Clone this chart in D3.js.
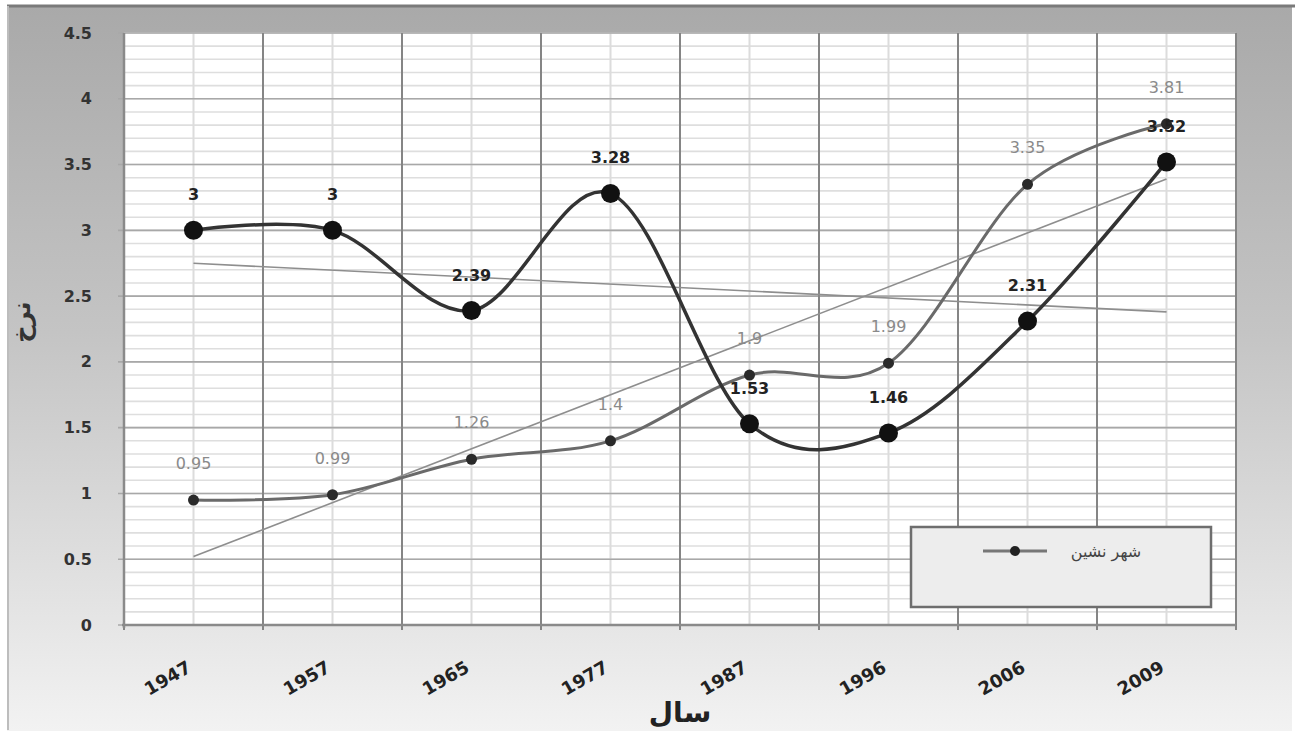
<!DOCTYPE html>
<html><head><meta charset="utf-8">
<script src="https://cdn.jsdelivr.net/npm/d3@7"></script>
<style>body{margin:0;background:#fff}svg{display:block}text{font-family:"DejaVu Sans",Arial,sans-serif}</style>
</head><body><svg id="c" width="1295" height="734"></svg>
<script>
const years = ["1947","1957","1965","1977","1987","1996","2006","2009"];
const seriesDark = [3, 3, 2.39, 3.28, 1.53, 1.46, 2.31, 3.52];
const seriesGray = [0.95, 0.99, 1.26, 1.4, 1.9, 1.99, 3.35, 3.81];
const trendDark = [2.75, 2.38];   // trend line value at first and last year
const trendGray = [0.52, 3.39];
const yTicks = [0, 0.5, 1, 1.5, 2, 2.5, 3, 3.5, 4, 4.5];
const legendLabel = "شهر نشین";
const xTitle = "سال";
const yTitle = "نرخ";

const svg = d3.select("#c");
const W = 1295, H = 734;
const defs = svg.append("defs");
const g1 = defs.append("linearGradient").attr("id","bg").attr("x1",0).attr("y1",0).attr("x2",0).attr("y2",1);
g1.append("stop").attr("offset","0%").attr("stop-color","#a9a9a9");
g1.append("stop").attr("offset","45%").attr("stop-color","#c4c4c4");
g1.append("stop").attr("offset","100%").attr("stop-color","#f2f2f2");

svg.append("rect").attr("x",7).attr("y",5).attr("width",W-10).attr("height",H-8)
  .attr("fill","url(#bg)");
svg.append("line").attr("x1",7).attr("x2",W).attr("y1",6).attr("y2",6).attr("stroke","#7a7a7a").attr("stroke-width",3);
svg.append("line").attr("x1",8).attr("x2",8).attr("y1",6).attr("y2",H-4).attr("stroke","#bdbdbd").attr("stroke-width",2);

const x = d3.scaleBand().domain(years).range([124,1236]).paddingInner(0).paddingOuter(0);
const y = d3.scaleLinear().domain([0,4.5]).range([625,33]);
const cx = d => x(d) + x.bandwidth()/2;

// plot area
svg.append("rect").attr("x",124).attr("y",33).attr("width",1112).attr("height",592).attr("fill","#ffffff");

// minor horizontal grid
const minor = d3.range(0,4.5001,0.1);
svg.append("g").selectAll("line").data(minor).join("line")
  .attr("x1",124).attr("x2",1236).attr("y1",d=>y(d)).attr("y2",d=>y(d))
  .attr("stroke","#dedede").attr("stroke-width",1.6);
// minor vertical grid at category centers
svg.append("g").selectAll("line").data(years).join("line")
  .attr("x1",d=>cx(d)).attr("x2",d=>cx(d)).attr("y1",33).attr("y2",625)
  .attr("stroke","#dcdcdc").attr("stroke-width",2);
// major horizontal grid
svg.append("g").selectAll("line").data(yTicks).join("line")
  .attr("x1",118).attr("x2",1236).attr("y1",d=>y(d)).attr("y2",d=>y(d))
  .attr("stroke","#a8a8a8").attr("stroke-width",1.6);
// major vertical grid at band edges
const edges = years.map(d=>x(d)).concat([1236]);
svg.append("g").selectAll("line").data(edges).join("line")
  .attr("x1",d=>d).attr("x2",d=>d).attr("y1",33).attr("y2",630)
  .attr("stroke","#858585").attr("stroke-width",2);
// axes lines
svg.append("line").attr("x1",122).attr("x2",1236).attr("y1",625).attr("y2",625).attr("stroke","#8a8a8a").attr("stroke-width",2.5);
svg.append("line").attr("x1",124).attr("x2",124).attr("y1",33).attr("y2",628).attr("stroke","#8a8a8a").attr("stroke-width",2.5);

// y tick labels
svg.append("g").selectAll("text").data(yTicks).join("text")
  .attr("x",92).attr("y",d=>y(d)).attr("dy","0.35em").attr("text-anchor","end")
  .attr("font-size",16).attr("font-weight","bold").attr("fill","#333")
  .text(d=>d3.format("")(d));

// x tick labels
svg.append("g").selectAll("text").data(years).join("text")
  .attr("transform",d=>`translate(${cx(d)-1},${671}) rotate(-30)`)
  .attr("text-anchor","end").attr("font-size",18).attr("font-weight","bold").attr("fill","#222")
  .text(d=>d);

// titles
svg.append("text").attr("x",680).attr("y",722).attr("text-anchor","middle")
  .attr("font-size",28).attr("font-weight","bold").attr("fill","#222").text(xTitle);
svg.append("text").attr("transform","translate(30,322) rotate(-90)").attr("text-anchor","middle")
  .attr("font-size",24).attr("font-weight","bold").attr("fill","#333").text(yTitle);

// trend lines
const tl = d3.line().x(d=>d[0]).y(d=>d[1]);
[trendDark, trendGray].forEach(t=>{
  svg.append("path").attr("d",tl([[cx(years[0]),y(t[0])],[cx(years[years.length-1]),y(t[1])]]))
    .attr("fill","none").attr("stroke","#8e8e8e").attr("stroke-width",1.6);
});

const line = d3.line().x((d,i)=>cx(years[i])).y(d=>y(d)).curve(d3.curveCardinal.tension(0));

// gray series
svg.append("path").attr("d",line(seriesGray)).attr("fill","none").attr("stroke","#6a6a6a").attr("stroke-width",3);
svg.append("g").selectAll("circle").data(seriesGray).join("circle")
  .attr("cx",(d,i)=>cx(years[i])).attr("cy",d=>y(d)).attr("r",5.5).attr("fill","#2a2a2a");
svg.append("g").selectAll("text").data(seriesGray).join("text")
  .attr("x",(d,i)=>cx(years[i])).attr("y",d=>y(d)-31).attr("text-anchor","middle")
  .attr("font-size",16).attr("fill","#8a8a8a").text(d=>d);

// dark series
svg.append("path").attr("d",line(seriesDark)).attr("fill","none").attr("stroke","#333").attr("stroke-width",3.5);
svg.append("g").selectAll("circle").data(seriesDark).join("circle")
  .attr("cx",(d,i)=>cx(years[i])).attr("cy",d=>y(d)).attr("r",9.5).attr("fill","#111");
svg.append("g").selectAll("text").data(seriesDark).join("text")
  .attr("x",(d,i)=>cx(years[i])).attr("y",d=>y(d)-30).attr("text-anchor","middle")
  .attr("font-size",16).attr("font-weight","bold").attr("fill","#222").text(d=>d);

// legend
const lg = svg.append("g");
lg.append("rect").attr("x",911).attr("y",527).attr("width",300).attr("height",80)
  .attr("fill","#ededed").attr("stroke","#6e6e6e").attr("stroke-width",2.5);
lg.append("line").attr("x1",983).attr("x2",1047).attr("y1",551).attr("y2",551).attr("stroke","#777").attr("stroke-width",3);
lg.append("circle").attr("cx",1015).attr("cy",551).attr("r",5).attr("fill","#222");
lg.append("text").attr("x",1106).attr("y",557).attr("text-anchor","middle").attr("font-size",16)
  .attr("fill","#444").text(legendLabel);
</script></body></html>
